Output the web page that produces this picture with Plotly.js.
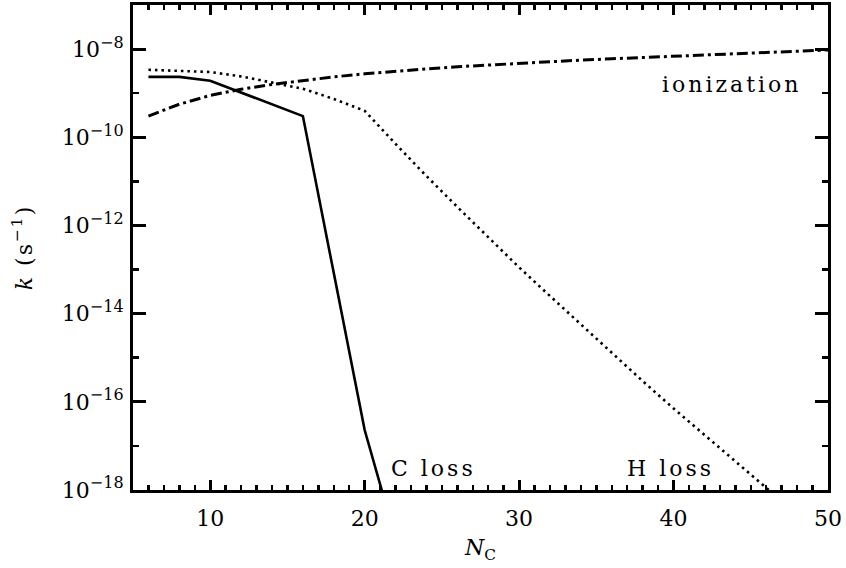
<!DOCTYPE html>
<html>
<head>
<meta charset="utf-8">
<script src="https://cdn.plot.ly/plotly-3.0.1.min.js"></script>
<style>
  html, body { margin: 0; padding: 0; background: #fff; }
  #chart { width: 846px; height: 568px; }
  .annotation-text { letter-spacing: 3px; }
  .ytitle { letter-spacing: 2px; }
</style>
</head>
<body>
<div id="chart"></div>
<script>
// Values
const nC_closs = [6, 8, 10, 12, 14, 16, 18, 20, 22];
const k_closs  = [2.34e-9, 2.34e-9, 1.91e-9, 1.03e-9, 5.58e-10, 3.02e-10, 8.3e-14, 2.29e-17, 7.9e-20];

const nC_hloss = [6, 8, 10, 12, 14, 16, 18, 20, 22, 24, 26, 28, 30, 32, 34, 36, 38, 40, 42, 44, 46, 48];
const k_hloss  = [3.39e-9, 3.24e-9, 3.02e-9, 2.40e-9, 1.74e-9, 1.26e-9, 7.41e-10, 3.98e-10, 7.08e-11,
                  1.32e-11, 2.63e-12, 5.37e-13, 1.12e-13, 2.51e-14, 5.62e-15, 1.26e-15, 2.95e-16,
                  7.08e-17, 1.78e-17, 4.47e-18, 1.12e-18, 2.82e-19];

const nC_ion = [6, 8, 10, 12, 14, 16, 18, 20, 22, 24, 26, 28, 30, 32, 34, 36, 38, 40, 42, 44, 46, 48, 50];
const k_ion  = [3.02e-10, 5.62e-10, 8.91e-10, 1.23e-9, 1.58e-9, 1.95e-9, 2.34e-9, 2.75e-9, 3.16e-9,
                3.55e-9, 3.98e-9, 4.37e-9, 4.79e-9, 5.25e-9, 5.62e-9, 6.03e-9, 6.46e-9, 6.92e-9,
                7.41e-9, 7.94e-9, 8.51e-9, 8.91e-9, 9.55e-9];

// y tick labels (exponents of ten)
const yTickExp = [-18, -16, -14, -12, -10, -8];
const yTickText = yTickExp.map(e => "10<sup><span style=\"font-size:16px\">−" + Math.abs(e) + "</span></sup>");

const labels = ["ionization", "C loss", "H loss"];
const FONT = "DejaVu Serif";

const traces = [
  { x: nC_closs, y: k_closs, mode: "lines", type: "scatter", line: { color: "#000", width: 2.6 } },
  { x: nC_hloss, y: k_hloss, mode: "lines", type: "scatter", line: { color: "#000", width: 2.6, dash: "2.5px,4px" } },
  { x: nC_ion, y: k_ion, mode: "lines", type: "scatter", line: { color: "#000", width: 3, dash: "11px,4px,3px,4px" } }
];

const layout = {
  width: 846, height: 568,
  margin: { l: 133, r: 18, t: 5, b: 78 },
  paper_bgcolor: "#fff", plot_bgcolor: "#fff",
  showlegend: false,
  font: { family: FONT, size: 22, color: "#000" },
  xaxis: {
    range: [5, 50], tick0: 0, dtick: 10,
    ticks: "inside", ticklen: 10, tickwidth: 3, tickcolor: "#000",
    minor: { dtick: 1, ticks: "inside", ticklen: 5, tickwidth: 2.5, tickcolor: "#000" },
    showline: true, linewidth: 3, linecolor: "#000", mirror: "ticks",
    showgrid: false, zeroline: false, ticklabelstandoff: 7,
    tickfont: { family: FONT, size: 22 },
    title: { text: "<i>N</i><sub>C</sub>", font: { family: FONT, size: 22 }, standoff: 10 }
  },
  yaxis: {
    type: "log", range: [-18, -7],
    tickmode: "array", tickvals: yTickExp.map(e => Math.pow(10, e)), ticktext: yTickText,
    ticks: "inside", ticklen: 13, tickwidth: 3, tickcolor: "#000",
    minor: { dtick: 1, ticks: "inside", ticklen: 6, tickwidth: 2.5, tickcolor: "#000" },
    showline: true, linewidth: 3, linecolor: "#000", mirror: "ticks",
    showgrid: false, zeroline: false, ticklabelstandoff: 2,
    tickfont: { family: FONT, size: 22 },
    title: { text: "<i>k</i> (s<sup>−1</sup>)", font: { family: FONT, size: 22 }, standoff: 24 }
  },
  annotations: [
    { text: labels[0], x: 39.1, y: -8.81, xref: "x", yref: "y", xanchor: "left", yanchor: "middle", showarrow: false, font: { family: FONT, size: 22, color: "#000" } },
    { text: labels[1], x: 21.6, y: -17.52, xref: "x", yref: "y", xanchor: "left", yanchor: "middle", showarrow: false, font: { family: FONT, size: 22, color: "#000" } },
    { text: labels[2], x: 36.85, y: -17.52, xref: "x", yref: "y", xanchor: "left", yanchor: "middle", showarrow: false, font: { family: FONT, size: 22, color: "#000" } }
  ]
};

Plotly.newPlot("chart", traces, layout, { staticPlot: true, displayModeBar: false });
</script>
</body>
</html>
